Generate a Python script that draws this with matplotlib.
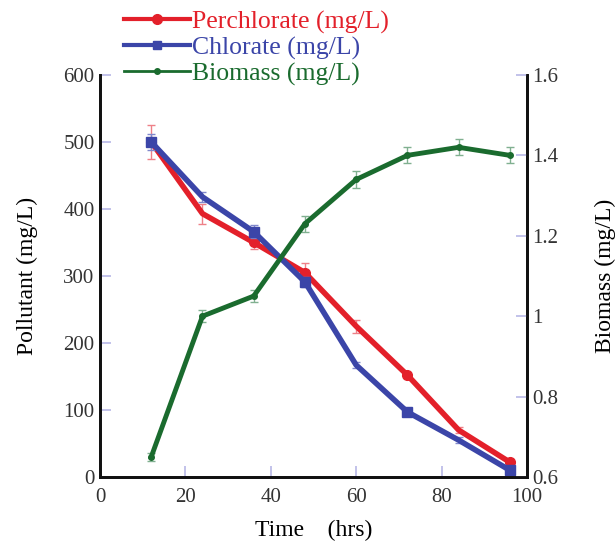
import numpy as np
import matplotlib.pyplot as plt
from matplotlib.lines import Line2D

plt.rcParams['font.family'] = ['Liberation Serif', 'DejaVu Serif']

time = [12, 24, 36, 48, 60, 72, 84, 96]
perchlorate = [500, 393, 350, 305, 225, 152, 70, 22]
perchlorate_err = [25, 15, 10, 15, 10, 5, 5, 5]
chlorate = [500, 418, 366, 291, 167, 97, 55, 10]
chlorate_err = [12, 8, 10, 8, 5, 5, 5, 5]
biomass = [0.65, 1.00, 1.05, 1.23, 1.34, 1.40, 1.42, 1.40]
biomass_err = [0.01, 0.015, 0.015, 0.02, 0.02, 0.02, 0.02, 0.02]

red = '#e3202a'
blue = '#3b45a8'
green = '#1a6b2e'
tick_col = '#b8b8e6'

fig = plt.figure(figsize=(6.15, 5.44), dpi=100)
ax = fig.add_axes([0.1626, 0.1232, 0.6943, 0.7390])
ax2 = ax.twinx()

ax.errorbar(time, perchlorate, yerr=perchlorate_err, color=red, lw=4,
            marker='o', ms=7, markevery=[0, 2, 3, 5, 7],
            ecolor='#ee8088', elinewidth=1, capsize=3, zorder=3)
ax.errorbar(time, chlorate, yerr=chlorate_err, color=blue, lw=4,
            marker='s', ms=7, markevery=[0, 2, 3, 5, 7],
            ecolor='#8088cc', elinewidth=1, capsize=3, zorder=4)
ax2.errorbar(time, biomass, yerr=biomass_err, color=green, lw=3.5,
             marker='o', ms=4, ecolor='#80b090', elinewidth=1, capsize=3)

ax.set_xlim(0, 100)
ax.set_ylim(0, 600)
ax2.set_ylim(0.6, 1.6)
ax.set_xticks([0, 20, 40, 60, 80, 100])
ax.set_yticks([0, 100, 200, 300, 400, 500, 600])
ax2.set_yticks([0.6, 0.8, 1.0, 1.2, 1.4, 1.6])
ax2.set_yticklabels(['0.6', '0.8', '1', '1.2', '1.4', '1.6'])

for a in (ax, ax2):
    a.spines['top'].set_visible(False)
    for s in ('left', 'right', 'bottom'):
        a.spines[s].set_linewidth(2)
        a.spines[s].set_color('#111111')
    a.tick_params(direction='in', color=tick_col, length=8, width=1.2,
                  labelsize=15, labelcolor='#333333', pad=4)
ax.tick_params(axis='x', pad=8)

ax.set_xlabel('Time    (hrs)', fontsize=17, labelpad=9)
ax.set_ylabel('Pollutant (mg/L)', fontsize=17, labelpad=18)
ax2.set_ylabel('Biomass (mg/L)', fontsize=17, labelpad=26)

handles = [
    Line2D([], [], color=red, lw=3, marker='o', ms=7),
    Line2D([], [], color=blue, lw=3, marker='s', ms=6),
    Line2D([], [], color=green, lw=2, marker='o', ms=4),
]
labels = ['Perchlorate (mg/L)', 'Chlorate (mg/L)', 'Biomass (mg/L)']
leg = fig.legend(handles, labels, loc='upper left', bbox_to_anchor=(0.185, 1.0),
                 frameon=False, fontsize=18.5, handlelength=2.55, handletextpad=0.1,
                 labelspacing=0.1, borderaxespad=0)
for txt, c in zip(leg.get_texts(), [red, blue, green]):
    txt.set_color(c)

fig.savefig('out.png', dpi=100)
